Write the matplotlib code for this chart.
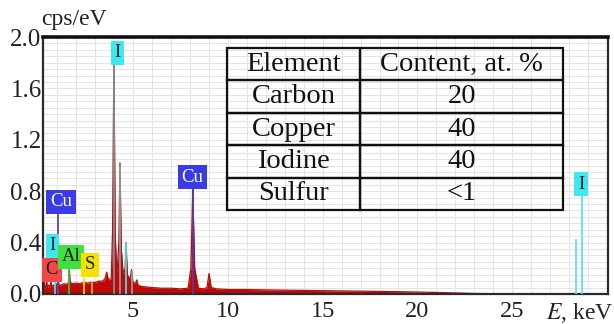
import matplotlib
matplotlib.use("Agg")
import matplotlib.pyplot as plt
import numpy as np

# ---------------- data ----------------
spec_E = [0.25, 0.30, 0.36, 0.40, 0.44, 0.48, 0.55, 0.62, 0.67, 0.72, 0.80, 0.88, 0.95, 1.02,
          1.06, 1.10, 1.20, 1.35, 1.50, 1.60, 1.64, 1.68, 1.80, 2.00, 2.20, 2.40, 2.60, 2.80,
          3.00, 3.20, 3.40, 3.52, 3.61, 3.70, 3.85, 3.92, 3.99, 4.06, 4.15, 4.25, 4.31, 4.38,
          4.48, 4.58, 4.63, 4.70, 4.80, 4.87, 4.92, 4.98, 5.08, 5.15, 5.20, 5.26, 5.40, 5.70,
          6.00, 6.50, 7.00, 7.50, 7.90, 8.05, 8.15, 8.25, 8.45, 8.70, 8.90, 9.01, 9.12, 9.40,
          10.0, 11.0, 12.0, 13.0, 14.0, 15.0, 16.0, 17.0, 18.0, 19.0, 20.0, 21.0, 22.0, 23.0,
          24.0, 30.05]
spec_cps = [0.03, 0.10, 0.04, 0.06, 0.11, 0.05, 0.07, 0.06, 0.10, 0.05, 0.07, 0.06, 0.08, 0.07,
            0.10, 0.07, 0.07, 0.08, 0.075, 0.09, 0.20, 0.09, 0.08, 0.085, 0.08, 0.09, 0.085, 0.09,
            0.09, 0.10, 0.10, 0.12, 0.17, 0.11, 0.12, 0.50, 1.85, 0.45, 0.15, 0.40, 1.02, 0.35,
            0.15, 0.20, 0.40, 0.15, 0.12, 0.14, 0.19, 0.10, 0.08, 0.09, 0.11, 0.07, 0.06, 0.055,
            0.05, 0.045, 0.045, 0.04, 0.045, 0.20, 0.83, 0.20, 0.045, 0.04, 0.05, 0.16, 0.05, 0.04,
            0.035, 0.035, 0.032, 0.03, 0.028, 0.026, 0.024, 0.022, 0.02, 0.018, 0.015, 0.012,
            0.008, 0.004, 0.002, 0.0]

# element marker lines: energy, top, colour
line_E = [3.99, 4.31, 4.92, 4.63, 8.15, 1.06, 2.43, 2.82, 1.64, 0.88, 28.36, 28.68]
line_top = [1.79, 1.00, 0.18, 0.40, 0.82, 0.64, 0.125, 0.10, 0.195, 0.10, 0.43, 0.763]
line_col = ["#7f8f8f", "#8f9a9a", "#8f9a9a", "#40e0ea", "#5a3aa0", "#6a40a8",
            "#f0e000", "#f0a020", "#40c040", "#40e0ea", "#60e0ea", "#60e0ea"]

# element labels: text, energy, cps, face, text colour
lab_text = ["I", "Cu", "I", "C", "Al", "S", "Cu", "I"]
lab_E = [4.18, 1.20, 0.75, 0.72, 1.73, 2.73, 8.14, 28.63]
lab_y = [1.876, 0.716, 0.374, 0.187, 0.288, 0.226, 0.91, 0.856]
lab_face = ["#3ee8f0", "#3b3be6", "#3ee8f0", "#f04848", "#40e040", "#f5e000", "#3b3be6", "#3ee8f0"]
lab_tcol = ["#202020", "white", "#202020", "#202020", "#202020", "#202020", "white", "#202020"]

tab_elements = ["Carbon", "Copper", "Iodine", "Sulfur"]
tab_content = ["20", "40", "40", "<1"]

x_ticks = [5, 10, 15, 20, 25]
y_ticks = [0.0, 0.4, 0.8, 1.2, 1.6, 2.0]

# ---------------- plot ----------------
plt.rcParams["font.family"] = ["Liberation Serif", "DejaVu Serif"]
fig = plt.figure(figsize=(6.14, 3.24), dpi=100)
ax = fig.add_axes([43 / 614, 30 / 324, 565 / 614, 257 / 324])

ax.set_xlim(0.25, 30.05)
ax.set_ylim(0, 2.0)

ax.set_xticks(x_ticks)
ax.set_xticks(np.arange(1, 31, 1), minor=True)
ax.set_yticks(y_ticks)
ax.set_yticks(np.arange(0, 2.001, 0.05), minor=True)
ax.set_yticklabels([f"{v:.1f}" for v in y_ticks])
ax.tick_params(which="both", length=0)
ax.tick_params(axis="x", labelsize=17.5, pad=5, colors="#222222")
ax.tick_params(axis="y", labelsize=18, pad=1, colors="#222222")
for lab in ax.get_yticklabels():
    lab.set_verticalalignment("center_baseline")
ax.grid(which="both", color="#e4e4e4", lw=0.7)
ax.set_axisbelow(True)

for s in ["left", "right", "bottom"]:
    ax.spines[s].set_linewidth(1.6)
    ax.spines[s].set_color("#2a2a2a")
ax.spines["top"].set_linewidth(2.6)
ax.spines["top"].set_color("#111111")

ax.fill_between(spec_E, 0, spec_cps, color="#c00808", lw=0, zorder=2)
ax.plot(spec_E, spec_cps, color="#b01010", lw=0.9, zorder=2.5)

ax.vlines(line_E, 0, line_top, colors=line_col, lw=1.3, zorder=3)

for t, e, y, fc, tc in zip(lab_text, lab_E, lab_y, lab_face, lab_tcol):
    ax.text(e, y, t, ha="center", va="center", fontsize=13.5, color=tc, zorder=5,
            bbox=dict(boxstyle="square,pad=0.2", fc=fc, ec="none"))

# table
cells = [["Element", "Content, at. %"]] + [[a, b] for a, b in zip(tab_elements, tab_content)]
tab = ax.table(cellText=cells, colWidths=[0.396, 0.604], cellLoc="center",
               bbox=[(227 - 43) / 565, (294 - 210) / 257, (563 - 227) / 565, (210 - 48) / 257],
               zorder=6)
tab.auto_set_font_size(False)
for (r, c), cell in tab.get_celld().items():
    cell.set_facecolor("none")
    cell.set_edgecolor("#111111")
    cell.set_linewidth(1.6)
    cell.get_text().set_fontsize(20.5)
    cell.get_text().set_color("#111111")

fig.text(41 / 614, 1 - 20 / 324, "cps/eV", fontsize=17, ha="left", va="center", color="#222222")
fig.text(546 / 614, 1 - 313 / 324, r"$E$, keV", fontsize=17, ha="left", va="center",
         color="#222222", math_fontfamily="stix")

fig.savefig("out.png", dpi=100)
